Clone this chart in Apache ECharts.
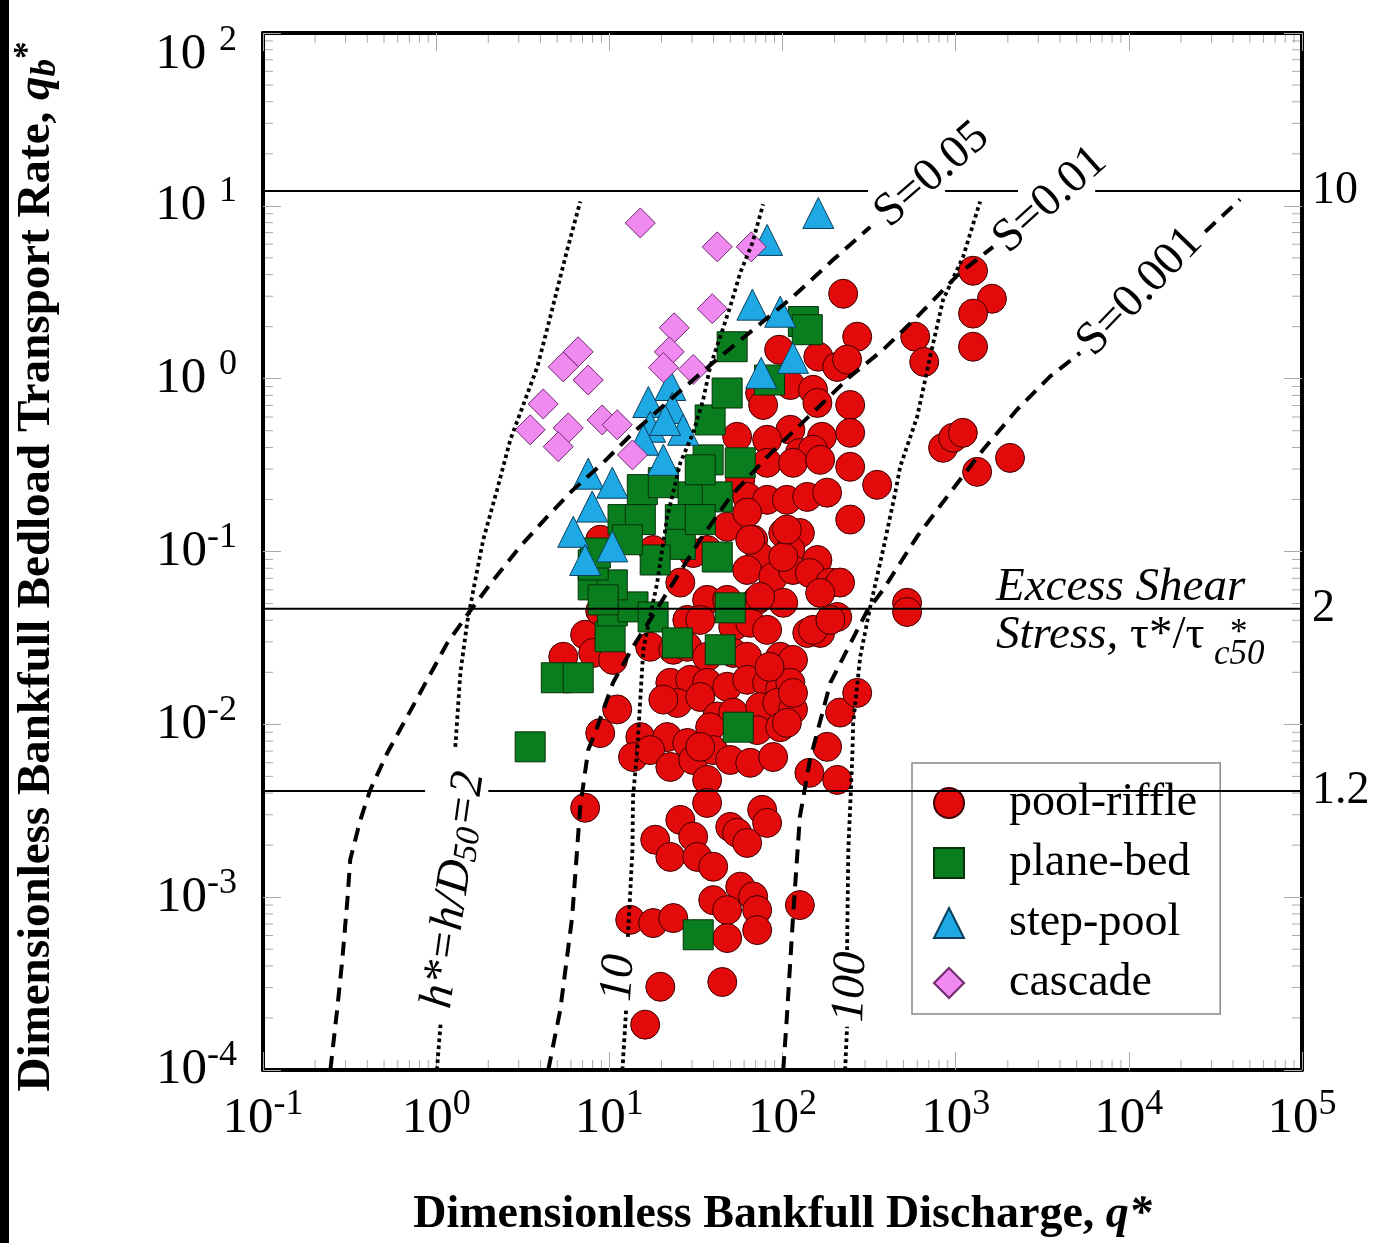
<!DOCTYPE html>
<html>
<head>
<meta charset="utf-8">
<script src="https://cdn.jsdelivr.net/npm/echarts@6/dist/echarts.min.js"></script>
<style>
html,body{margin:0;padding:0;background:#fff;}
#main{width:1394px;height:1243px;}
</style>
</head>
<body>
<div id="main"></div>
<script>
// ---------------- data ----------------
const seriesNames = ['pool-riffle', 'plane-bed', 'step-pool', 'cascade'];

const poolRiffle = [
  [224,3.10],[270,1.75],[95.6,1.47],[161,1.34],[207,1.17],[236,1.29],[584,1.75],[658,1.25],[1260,4.21],[1620,2.90],[1260,2.38],[1260,1.53],
  [74.3,0.826],[77.3,0.704],[111,0.919],[150,0.862],[159,0.724],[246,0.704],[111,0.506],[169,0.461],[246,0.486],[54.7,0.461],[81.5,0.443],
  [126,0.372],[150,0.388],[246,0.309],[846,0.398],[967,0.455],[1100,0.486],[1330,0.289],[2060,0.348],[352,0.243],
  [81.5,0.326],[115,0.326],[165,0.339],[57.0,0.260],[62.5,0.207],[81.5,0.199],[106,0.199],[139,0.207],[181,0.219],[246,0.153],
  [47.9,0.139],[67.7,0.117],[101,0.128],[126,0.128],
  [74.3,0.0929],[111,0.102],[159,0.0893],[62.5,0.0782],[88.3,0.0712],[115,0.0782],[144,0.0751],[189,0.0661],[215,0.0661],
  [36.7,0.102],[17.9,0.102],[30.5,0.098],[8.86,0.117],[25.7,0.0661],
  [36.7,0.0525],[47.9,0.0525],[71.4,0.0525],[101,0.0505],[165,0.0576],[207,0.0418],[28.2,0.0402],[33.5,0.0402],[51.9,0.0367],
  [65.1,0.0387],[81.5,0.0352],[139,0.0338],[165,0.0338],
  [7.25,0.0330],[5.42,0.0246],[8.07,0.0259],[10.5,0.0236],[17.2,0.0281],[23.4,0.0270],[28.2,0.0281],[36.7,0.0246],[51.9,0.0259],
  [62.5,0.0246],[97.0,0.0246],[115,0.0236],
  [22.5,0.0174],[29.3,0.0181],[36.7,0.0174],[47.9,0.0165],[62.5,0.0181],[81.5,0.0174],[97.0,0.0159],[111,0.0174],
  [24.7,0.0133],[33.5,0.0144],[42.0,0.0111],[51.9,0.0117],[74.3,0.0126],[93.2,0.0133],[115,0.0122],[11.1,0.0122],
  [8.86,0.0089],[15.1,0.00844],[13.7,0.00647],[21.6,0.00844],[38.2,0.00963],[28.2,0.0078],[71.4,0.00926],[97.0,0.00963],
  [17.2,0.0071],[22.5,0.00567],[30.5,0.00622],[39.8,0.0071],[49.9,0.00622],[65.1,0.00599],[88.3,0.00647],[36.7,0.00477],
  [181,0.00741],[215,0.0117],[270,0.0152],[143,0.00524],[207,0.00477],[524,0.0505],[524,0.0447],
  [7.25,0.00329],[36.7,0.00351],[25.7,0.0028],[30.5,0.00224],[18.4,0.00215],[22.5,0.00171],[32.2,0.00171],[39.8,0.0015],
  [49.9,0.00255],[54.7,0.00236],[62.5,0.00206],[76.3,0.0032],[81.5,0.00269],
  [39.8,0.000961],[57.0,0.00115],[47.9,0.000842],[67.7,0.00101],[71.4,0.000842],[71.4,0.000645],[47.9,0.00058],
  [13.2,0.000739],[17.9,0.000708],[23.4,0.000757],[126,0.0009],
  [19.7,0.000303],[44.9,0.000323],[16.1,0.000183],
  [62.5,0.168],[101,0.0929],[84.2,0.0215],[106,0.0102],[8.86,0.0453],
  [115,0.0152],[33.5,0.00741],[65.1,0.117],[106,0.134],[74.3,0.0546],[150,0.0352],[189,0.0402],[20.5,0.0139]
];

const planeBed = [
  [3.49,0.00741],[4.94,0.0186],[6.61,0.0186],[10.1,0.0321],[10.4,0.0453],[13.7,0.0478],[17.9,0.0418],[8.07,0.0641],[10.4,0.0641],
  [8.07,0.0836],[8.31,0.098],[12.0,0.153],[15.1,0.153],[15.5,0.228],[20.5,0.250],[30.5,0.207],[42.0,0.207],[25.7,0.153],[25.7,0.110],
  [18.4,0.0893],[42.0,0.0929],[49.9,0.0472],[24.7,0.0296],[43.7,0.0270],[55.5,0.00963],[32.6,0.000606],[57.0,0.326],[37.2,0.339],
  [33.5,0.297],[38.2,0.577],[47.9,0.826],[51.2,1.53],[84.2,0.982],[132,2.14],[139,1.92],[12.7,0.117],[33.5,0.153],[9.21,0.0525]
];

const stepPool = [
  [161,9.09],[81.5,6.35],[67.0,2.68],[97.0,2.44],[115,1.32],[75.3,1.08],[22.5,0.919],[16.8,0.733],[23.1,0.677],[17.2,0.527],
  [26.7,0.506],[21.0,0.577],[20.5,0.339],[15.7,0.443],[7.55,0.282],[10.4,0.250],[7.96,0.182],[6.19,0.130],[7.25,0.0893],[10.4,0.107]
];

const cascade = [
  [15.1,7.96],[42.0,5.79],[66.0,5.79],[39.3,2.54],[23.7,1.97],[6.61,1.43],[5.42,1.17],[22.2,1.43],[20.5,1.16],[30.5,1.13],
  [7.55,0.982],[4.15,0.714],[9.09,0.577],[11.1,0.541],[3.49,0.506],[5.79,0.519],[5.07,0.404],[13.6,0.362]
];

// slope curves (dashed)
const curveS005 = [[0.245,0.0001],[0.268,0.000223],[0.287,0.000433],[0.307,0.00096],[0.319,0.00165],[0.365,0.0028],[0.416,0.00417],
  [0.522,0.00683],[0.681,0.0111],[0.888,0.0181],[1.16,0.0296],[1.57,0.0453],[2.14,0.0685],[3.06,0.107],[4.38,0.159],[6.19,0.228],
  [9.21,0.326],[13.7,0.486],[23.4,0.784],[39.8,1.24],[67.7,1.92],[115,2.98],[196,4.87],[321,7.55]];
const curveS001 = [[4.44,0.0001],[5.21,0.000223],[6.10,0.000767],[6.79,0.00333],[7.55,0.0071],[8.51,0.00963],[10.5,0.0174],
  [13.7,0.0281],[17.2,0.0402],[23.4,0.0661],[33.5,0.117],[49.9,0.207],[81.5,0.353],[141,0.601],[246,1.03],[381,1.47],[599,2.28],
  [1060,4.10],[1645,5.79]];
const curveS0001a = [[101,0.0001],[106,0.000203],[115,0.000767],[126,0.00292],[144,0.00622],[189,0.0174],[236,0.0270],[308,0.0453],
  [381,0.0600],[478,0.0858],[599,0.122],[929,0.219],[1440,0.388],[2264,0.663],[3510,1.03],[5230,1.41]];
const curveS0001b = [[27600,7.07],[43900,10.9]];

// relative depth curves (dotted)
const curveH2a = [[1.01,0.0001],[1.06,0.000183]];
const curveH2b = [[1.29,0.00741],[1.38,0.0199],[1.51,0.0387],[1.64,0.0600],[1.87,0.117],[2.25,0.228],[2.68,0.443],[3.84,1.17],
  [4.56,2.28],[5.71,5.56],[6.79,10.6]];
const curveH10a = [[11.9,0.0001],[12.5,0.000223]];
const curveH10b = [[12.8,0.000589],[13.6,0.00188],[13.7,0.0038],[14.5,0.0071],[15.7,0.0270],[18.9,0.0661],[21.6,0.159],[25.7,0.326],
  [30.5,0.486],[34.8,0.753],[38.2,1.17],[43.7,1.75],[49.9,2.61],[57.0,4.10],[67.0,6.10],[77.3,10.2]];
const curveH100a = [[230,0.0001],[236,0.000178]];
const curveH100b = [[236,0.000495],[240,0.00188],[253,0.00647],[256,0.0102],[281,0.0246],[321,0.0478],[381,0.1024],[448,0.219],
  [478,0.309],[599,0.601],[712,1.34],[846,2.86],[1104,5.07],[1384,10.6]];

// excess shear stress levels
const shearValues = [12.2, 0.0466, 0.00412];
const shearLabels = ['10', '2', '1.2'];
const shearSegments = [
  [[0.1, 312], [869, 2290], [6390, 100000]],
  [[0.1, 100000]],
  [[0.1, 0.863], [2.0, 100000]]
];

// tick labels
const xTickLabels = [['10','-1'],['10','0'],['10','1'],['10','2'],['10','3'],['10','4'],['10','5']];
const yTickLabels = [['10','-4'],['10','-3'],['10','-2'],['10','-1'],['10 ','0'],['10 ','1'],['10 ','2']];
const minorMantissas = [2,3,4,5,6,7,8,9];
const xDecades = [0.1, 1, 10, 100, 1000, 10000];
const yDecades = [0.0001, 0.001, 0.01, 0.1, 1, 10];

// ---------------- chart ----------------
const F = "'Liberation Serif','Times New Roman',Times,serif";
const X_MIN = 0.1, X_MAX = 100000, Y_MIN = 0.0001, Y_MAX = 100;
const xMinorTicks = [];
xDecades.forEach(d => minorMantissas.forEach(m => xMinorTicks.push([m * d, Y_MIN])));
const yMinorTicks = [];
yDecades.forEach(d => minorMantissas.forEach(m => yMinorTicks.push([X_MIN, m * d])));

const tickRich = {
  b:  {fontFamily: F, fontSize: 51, color: '#000', lineHeight: 64},
  s:  {fontFamily: F, fontSize: 36, color: '#000', lineHeight: 64, verticalAlign: 'top'},
  bt: {fontFamily: F, fontSize: 51, color: '#000', lineHeight: 64, padding: [44, 0, 0, 0]},
  st: {fontFamily: F, fontSize: 36, color: '#000', lineHeight: 64, verticalAlign: 'top', padding: [22, 0, 0, 0]}
};
function fmt(labels, minExp, shiftTop) {
  return function (v) {
    const e = Math.round(Math.log10(v));
    const lab = labels[e - minExp];
    if (!lab) return '';
    if (shiftTop && e === minExp + labels.length - 1) return '{bt|' + lab[0] + '}{st|' + lab[1] + '}';
    return '{b|' + lab[0] + '}{s|' + lab[1] + '}';
  };
}

const axisLineStyle = {show: true, lineStyle: {color: '#000', width: 4}};
const majorTick = {show: true, inside: true, length: 18, lineStyle: {color: '#aaa', width: 1}};

function curve(data, dotted) {
  return {
    type: 'line', data: data, showSymbol: false, symbol: 'none', silent: true, z: 5,
    lineStyle: {color: '#000', width: dotted ? 3.8 : 4, type: dotted ? [3.6, 3.4] : [14, 9], cap: 'butt', opacity: 1}
  };
}

const series = [
  {name: seriesNames[0], type: 'scatter', data: poolRiffle, symbol: 'circle', symbolSize: 29,
    itemStyle: {color: '#e20a0a', borderColor: '#3c0000', borderWidth: 1, opacity: 1}, z: 2},
  {name: seriesNames[1], type: 'scatter', data: planeBed, symbol: 'rect', symbolSize: 30,
    itemStyle: {color: '#0a7d1f', borderColor: '#053209', borderWidth: 1, opacity: 1}, z: 2},
  {name: seriesNames[2], type: 'scatter', data: stepPool, symbol: 'triangle', symbolSize: 31,
    itemStyle: {color: '#1fa9e4', borderColor: '#0a3f5e', borderWidth: 1, opacity: 1}, z: 2},
  {name: seriesNames[3], type: 'scatter', data: cascade, symbol: 'diamond', symbolSize: 30,
    itemStyle: {color: '#f089f0', borderColor: '#6e2a6e', borderWidth: 1, opacity: 1}, z: 2},
  curve(curveS005, false), curve(curveS001, false), curve(curveS0001a, false), curve(curveS0001b, false),
  curve(curveH2a, true), curve(curveH2b, true), curve(curveH10a, true), curve(curveH10b, true),
  curve(curveH100a, true), curve(curveH100b, true)
];

shearValues.forEach((v, i) => {
  const segs = shearSegments[i];
  segs.forEach((seg, j) => {
    const last = j === segs.length - 1;
    series.push({
      type: 'line', silent: true, showSymbol: false, symbol: 'none', z: 5,
      data: [[seg[0], v], [seg[1], v]],
      lineStyle: {color: '#000', width: 2, type: 'solid'},
      endLabel: last ? {show: true, formatter: shearLabels[i], distance: 10,
        fontFamily: F, fontSize: 46, color: '#000'} : {show: false}
    });
  });
});

series.push({
  type: 'custom', silent: true, clip: false, z: 3, data: xMinorTicks,
  renderItem: function (params, api) {
    const v = api.value(0);
    const b = api.coord([v, Y_MIN]), t = api.coord([v, Y_MAX]);
    return {type: 'group', children: [
      {type: 'line', shape: {x1: b[0], y1: b[1] - 2, x2: b[0], y2: b[1] - 10}, style: {stroke: '#aaa', lineWidth: 1}},
      {type: 'line', shape: {x1: t[0], y1: t[1] + 2, x2: t[0], y2: t[1] + 10}, style: {stroke: '#aaa', lineWidth: 1}}
    ]};
  }
});
series.push({
  type: 'custom', silent: true, clip: false, z: 3, data: yMinorTicks,
  renderItem: function (params, api) {
    const v = api.value(1);
    const l = api.coord([X_MIN, v]), r = api.coord([X_MAX, v]);
    return {type: 'group', children: [
      {type: 'line', shape: {x1: l[0] + 2, y1: l[1], x2: l[0] + 10, y2: l[1]}, style: {stroke: '#aaa', lineWidth: 1}},
      {type: 'line', shape: {x1: r[0] - 2, y1: r[1], x2: r[0] - 10, y2: r[1]}, style: {stroke: '#aaa', lineWidth: 1}}
    ]};
  }
});

const deg = Math.PI / 180;
const option = {
  animation: false,
  backgroundColor: '#fff',
  grid: {left: 263, right: 92, top: 33, bottom: 173, containLabel: false, outerBoundsMode: 'none'},
  xAxis: [{
    type: 'log', logBase: 10, min: X_MIN, max: X_MAX, splitNumber: 6, position: 'bottom',
    axisLine: axisLineStyle, axisTick: majorTick, splitLine: {show: false},
    axisLabel: {margin: 17, showMinLabel: true, showMaxLabel: true, formatter: fmt(xTickLabels, -1, false), rich: tickRich},
    name: '{a|Dimensionless Bankfull Discharge, }{q|q*}',
    nameLocation: 'middle', nameGap: 122,
    nameTextStyle: {rich: {
      a: {fontFamily: F, fontSize: 46, fontWeight: 'bold', color: '#000'},
      q: {fontFamily: F, fontSize: 46, fontWeight: 'bold', fontStyle: 'italic', color: '#000'}
    }}
  }, {
    type: 'log', logBase: 10, min: X_MIN, max: X_MAX, splitNumber: 6, position: 'top',
    axisLine: axisLineStyle, axisTick: majorTick, splitLine: {show: false}, axisLabel: {show: false}
  }],
  yAxis: [{
    type: 'log', logBase: 10, min: Y_MIN, max: Y_MAX, splitNumber: 6, position: 'left',
    axisLine: axisLineStyle, axisTick: majorTick, splitLine: {show: false},
    axisLabel: {margin: 26, showMinLabel: true, showMaxLabel: true, formatter: fmt(yTickLabels, -4, true), rich: tickRich},
    name: '{a|Dimensionless Bankfull Bedload Transport Rate, }{q|q}{sub|b}{sup|*}',
    nameLocation: 'middle', nameGap: 200, nameRotate: 90,
    nameTextStyle: {padding: [0, 30, 0, 0], rich: {
      a: {fontFamily: F, fontSize: 47, fontWeight: 'bold', color: '#000', lineHeight: 52},
      q: {fontFamily: F, fontSize: 47, fontWeight: 'bold', fontStyle: 'italic', color: '#000', lineHeight: 52},
      sub: {fontFamily: F, fontSize: 35, fontWeight: 'bold', fontStyle: 'italic', color: '#000', lineHeight: 52, verticalAlign: 'bottom'},
      sup: {fontFamily: F, fontSize: 35, fontWeight: 'bold', color: '#000', lineHeight: 52, verticalAlign: 'top'}
    }}
  }, {
    type: 'log', logBase: 10, min: Y_MIN, max: Y_MAX, splitNumber: 6, position: 'right',
    axisLine: axisLineStyle, axisTick: majorTick, splitLine: {show: false}, axisLabel: {show: false}
  }],
  legend: {
    data: seriesNames, orient: 'vertical', left: 912, top: 763,
    backgroundColor: '#fff', borderColor: '#888', borderWidth: 1.5, borderRadius: 0,
    padding: [15, 23, 6, 21], itemGap: 10, itemWidth: 30, itemHeight: 30,
    textStyle: {fontFamily: F, fontSize: 46, color: '#000', lineHeight: 50, padding: [0, 0, 0, 40]}
  },
  graphic: [
    {type: 'rect', left: 0, top: 0, shape: {width: 9, height: 1243}, style: {fill: '#000'}},
    {type: 'text', x: 932, y: 175, rotation: 41 * deg, z: 10,
      style: {text: 'S=0.05', fontFamily: F, fontSize: 47, fill: '#000', align: 'center', verticalAlign: 'middle'}},
    {type: 'text', x: 1050, y: 200, rotation: 42 * deg, z: 10,
      style: {text: 'S=0.01', fontFamily: F, fontSize: 47, fill: '#000', align: 'center', verticalAlign: 'middle'}},
    {type: 'text', x: 1140, y: 292, rotation: 46 * deg, z: 10,
      style: {text: 'S=0.001', fontFamily: F, fontSize: 47, fill: '#000', align: 'center', verticalAlign: 'middle'}},
    {type: 'text', x: 454, y: 890, rotation: 82 * deg, z: 10,
      style: {text: '{i|h*=h/D}{s|50}{i|=2}', align: 'center', verticalAlign: 'middle',
        rich: {i: {fontFamily: F, fontSize: 47, fontStyle: 'italic', fill: '#000', lineHeight: 50},
               s: {fontFamily: F, fontSize: 34, fontStyle: 'italic', fill: '#000', lineHeight: 50, verticalAlign: 'bottom'}}}},
    {type: 'text', x: 619, y: 978, rotation: 86 * deg, z: 10,
      style: {text: '10', fontFamily: F, fontSize: 47, fontStyle: 'italic', fill: '#000', align: 'center', verticalAlign: 'middle'}},
    {type: 'text', x: 851, y: 987, rotation: 88 * deg, z: 10,
      style: {text: '100', fontFamily: F, fontSize: 47, fontStyle: 'italic', fill: '#000', align: 'center', verticalAlign: 'middle'}},
    {type: 'text', x: 996, y: 588, z: 10,
      style: {text: 'Excess Shear', fontFamily: F, fontSize: 47, fontStyle: 'italic', fill: '#000', align: 'left', verticalAlign: 'middle'}},
    {type: 'text', x: 996, y: 636, z: 10,
      style: {text: '{i|Stress, }{r|τ*/τ}', align: 'left', verticalAlign: 'middle',
        rich: {i: {fontFamily: F, fontSize: 47, fontStyle: 'italic', fill: '#000'},
               r: {fontFamily: F, fontSize: 47, fill: '#000'}}}},
    {type: 'text', x: 1214, y: 655, z: 10,
      style: {text: 'c50', fontFamily: F, fontSize: 35, fontStyle: 'italic', fill: '#000', align: 'left', verticalAlign: 'middle'}},
    {type: 'text', x: 1230, y: 634, z: 10,
      style: {text: '*', fontFamily: F, fontSize: 35, fill: '#000', align: 'left', verticalAlign: 'middle'}}
  ],
  series: series
};

const chart = echarts.init(document.getElementById('main'), null, {renderer: 'canvas'});
chart.setOption(option);
</script>
</body>
</html>
